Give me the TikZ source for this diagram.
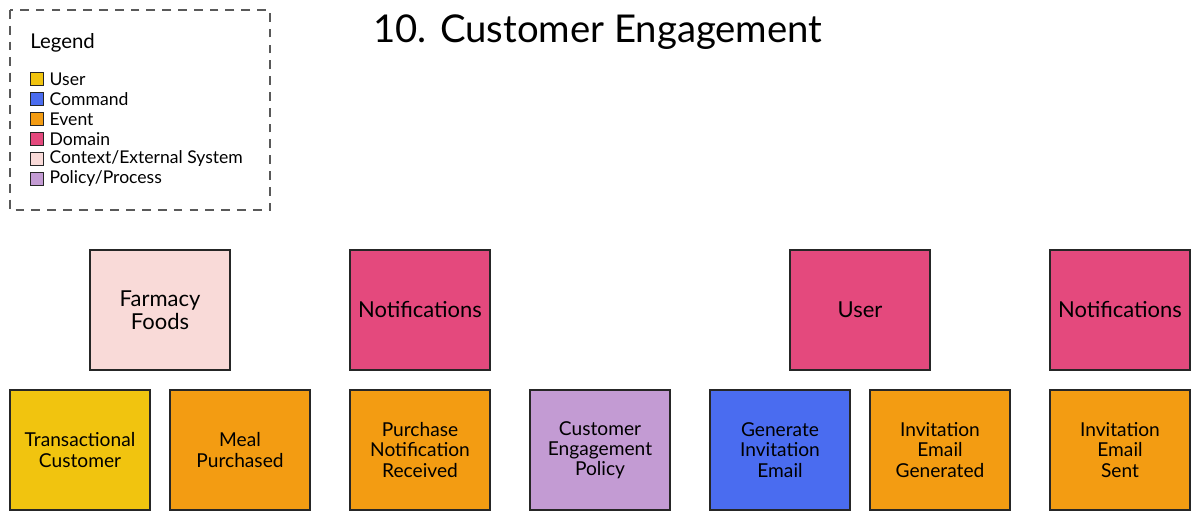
\documentclass[tikz,border=0pt]{standalone}
\usepackage{fontspec}
\setmainfont{Lato}
\usepackage{tikz}
\usetikzlibrary{positioning}
\definecolor{ceUser}{RGB}{241,196,15}
\definecolor{ceCommand}{RGB}{74,108,240}
\definecolor{ceEvent}{RGB}{243,156,18}
\definecolor{ceDomain}{RGB}{228,73,125}
\definecolor{ceContext}{RGB}{249,218,216}
\definecolor{cePolicy}{RGB}{195,155,211}

\begin{document}
\begin{tikzpicture}[x=0.02cm, y=-0.02cm,
  sticky/.style={draw=black!85, line width=0.8pt, minimum width=2.8cm, minimum height=2.4cm,
    inner xsep=0.1cm, align=center, text width=2.6cm, font=\fontsize{10.9}{11.5}\selectfont},
  bigsticky/.style={sticky, font=\fontsize{12.5}{13}\selectfont},
  swatch/.style={draw=black!85, line width=0.6pt, minimum size=0.26cm, inner sep=0pt},
  legtext/.style={font=\fontsize{10}{11}\selectfont, inner sep=0pt}]
  \useasboundingbox (0,0) rectangle (1200,520);
  % Title
  \node[font=\fontsize{21.8}{26}\selectfont] (title) at (598,32) {10. Customer Engagement};
  % Legend
  \draw[dashed, dash pattern=on 5pt off 4pt, black!65, line width=0.6pt] (10,10) rectangle (270,210);
  \node[legtext, anchor=west, font=\fontsize{11.6}{13}\selectfont] (legend) at (30,43) {Legend};
  \node[swatch, fill=ceUser] (swUser) at (37,79) {};
  \node[legtext, right=3pt of swUser] {User};
  \node[swatch, fill=ceCommand] (swCommand) at (37,99) {};
  \node[legtext, right=3pt of swCommand] {Command};
  \node[swatch, fill=ceEvent] (swEvent) at (37,119) {};
  \node[legtext, right=3pt of swEvent] {Event};
  \node[swatch, fill=ceDomain] (swDomain) at (37,139) {};
  \node[legtext, right=3pt of swDomain] {Domain};
  \node[swatch, fill=ceContext] (swContext) at (37,159) {};
  \node[legtext, right=3pt of swContext] {Context/External System};
  \node[swatch, fill=cePolicy] (swPolicy) at (37,179) {};
  \node[legtext, right=3pt of swPolicy] {Policy/Process};
  % Contexts and domains
  \node[bigsticky, fill=ceContext] (farmacy) at (160,310) {Farmacy\\Foods};
  \node[bigsticky, fill=ceDomain] (notifA) at (420,310) {Notifications};
  \node[bigsticky, fill=ceDomain] (user) at (860,310) {User};
  \node[bigsticky, fill=ceDomain] (notifB) at (1120,310) {Notifications};
  % Flow
  \node[sticky, fill=ceUser] (transCust) at (80,450) {Transactional\\Customer};
  \node[sticky, fill=ceEvent] (mealPurch) at (240,450) {Meal\\Purchased};
  \node[sticky, fill=ceEvent] (purchNotif) at (420,450) {Purchase\\Notification\\Received};
  \node[sticky, fill=cePolicy] (engPolicy) at (600,450) {Customer\\Engagement\\Policy};
  \node[sticky, fill=ceCommand] (genInvite) at (780,450) {Generate\\Invitation\\Email};
  \node[sticky, fill=ceEvent] (inviteGen) at (940,450) {Invitation\\Email\\Generated};
  \node[sticky, fill=ceEvent] (inviteSent) at (1120,450) {Invitation\\Email\\Sent};
\end{tikzpicture}
\end{document}
